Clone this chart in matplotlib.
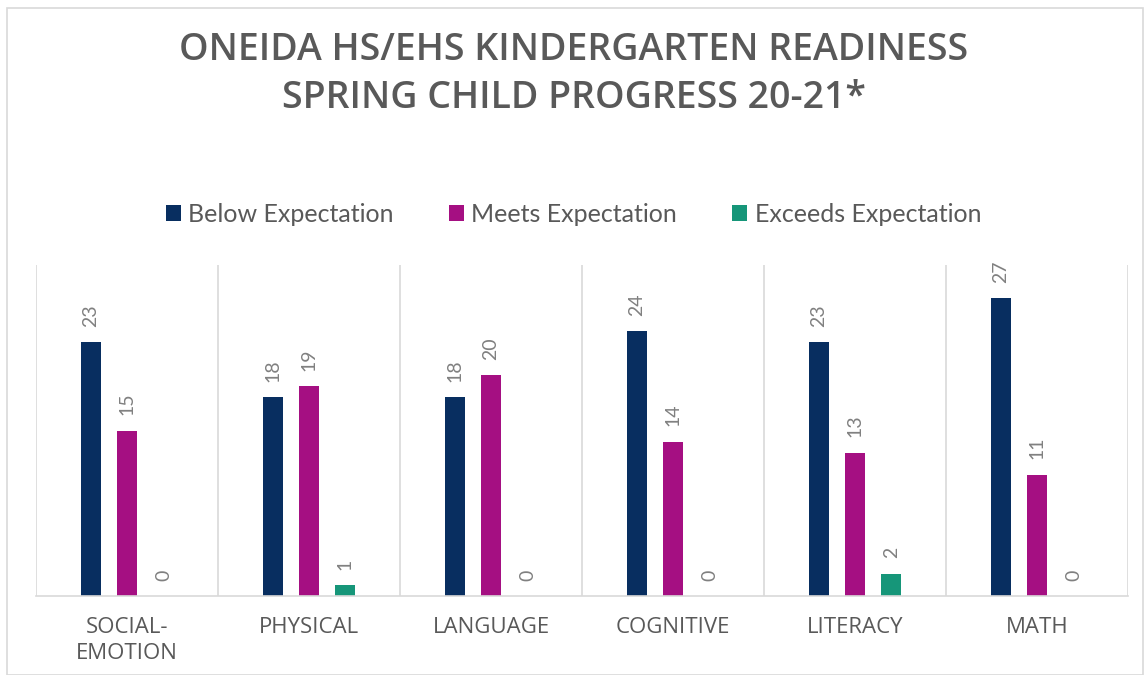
import matplotlib.pyplot as plt
import numpy as np

categories = ['SOCIAL-\nEMOTION', 'PHYSICAL', 'LANGUAGE', 'COGNITIVE', 'LITERACY', 'MATH']
below = [23, 18, 18, 24, 23, 27]
meets = [15, 19, 20, 14, 13, 11]
exceeds = [0, 1, 0, 0, 2, 0]
series = ['Below Expectation', 'Meets Expectation', 'Exceeds Expectation']
colors = ['#082E60', '#A50F82', '#169679']

plt.rcParams['font.family'] = ['Open Sans', 'DejaVu Sans']
gray = '#595959'

fig = plt.figure(figsize=(11.47, 6.75), dpi=100)
ax = fig.add_axes([36/1147, 1 - 596/675, (1128-36)/1147, (596-265)/675])

x = np.arange(len(categories))
w = 0.11
offs = [-0.2, 0.0, 0.2]
for vals, off, c, name in zip([below, meets, exceeds], offs, colors, series):
    bars = ax.bar(x + off, vals, w, color=c, label=name)
    for b, v in zip(bars, vals):
        ax.text(b.get_x() + b.get_width()/2, v + 1.4, str(v), rotation=90,
                ha='center', va='bottom', fontsize=14, color='#808080',
                family='Lato')

ax.set_xlim(-0.5, len(categories) - 0.5)
ax.set_ylim(0, 30)
for i in range(len(categories) + 1):
    ax.axvline(i - 0.5, color='#d9d9d9', lw=1.2, zorder=0)
for s in ['top', 'right', 'left']:
    ax.spines[s].set_visible(False)
ax.spines['bottom'].set_color('#d9d9d9')
ax.spines['bottom'].set_linewidth(1.2)
ax.set_yticks([])
ax.set_xticks(x)
ax.set_xticklabels(categories, fontsize=16, color=gray, linespacing=1.3)
ax.tick_params(axis='x', length=0, pad=15)

fig.text(0.5, 1 - 50/675, 'ONEIDA HS/EHS KINDERGARTEN READINESS', ha='center', va='center',
         fontsize=27, fontweight='semibold', color=gray)
fig.text(0.5, 1 - 98/675, 'SPRING CHILD PROGRESS 20-21*', ha='center', va='center',
         fontsize=27, fontweight='semibold', color=gray)

fig.legend(loc='center', bbox_to_anchor=(0.5, 1 - 214/675), ncol=3, frameon=False,
           labelcolor=gray, handlelength=0.6, handleheight=0.6,
           handletextpad=0.3, columnspacing=2.2, prop={'family': 'Lato', 'size': 18})

border = plt.Rectangle((7/1147, 0), 1 - 11/1147, 1 - 8/675, transform=fig.transFigure,
                       fill=False, edgecolor='#d9d9d9', lw=1.2)
fig.patches.append(border)

fig.savefig('out.png', dpi=100)
